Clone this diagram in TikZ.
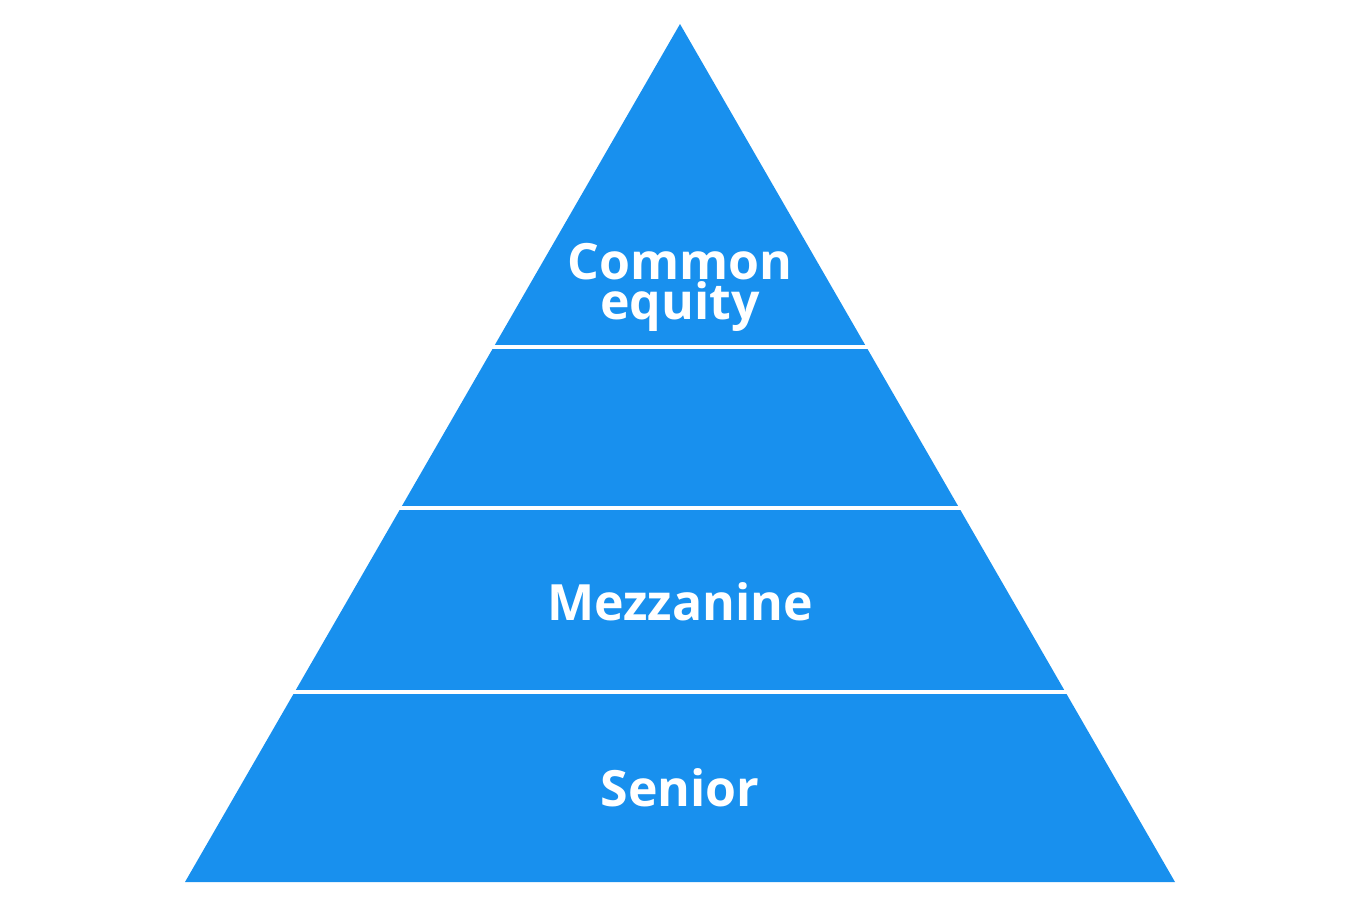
\documentclass[tikz,border=0pt]{standalone}
\usepackage{fontspec}
\setmainfont{Open Sans}
\definecolor{pblue}{HTML}{1890EE}
\begin{document}
\begin{tikzpicture}[x=1pt,y=-1pt,
  lbl/.style={text=white,font=\bfseries\fontsize{50}{40}\selectfont,align=center,inner sep=0pt},
  gap/.style={draw=white,line width=4pt}]
\useasboundingbox (0,0) rectangle (1360,906);
\fill[pblue] (680,24) -- (1175,882) -- (185,882) -- cycle;
\draw[gap] (400,347) -- (960,347);
\draw[gap] (300,508) -- (1060,508);
\draw[gap] (200,692) -- (1160,692);
\node[lbl] (ce) at (680,287) {Common\\equity};
\node[lbl] (mz) at (680,602) {Mezzanine};
\node[lbl] (sn) at (680,788) {Senior};
\end{tikzpicture}
\end{document}
